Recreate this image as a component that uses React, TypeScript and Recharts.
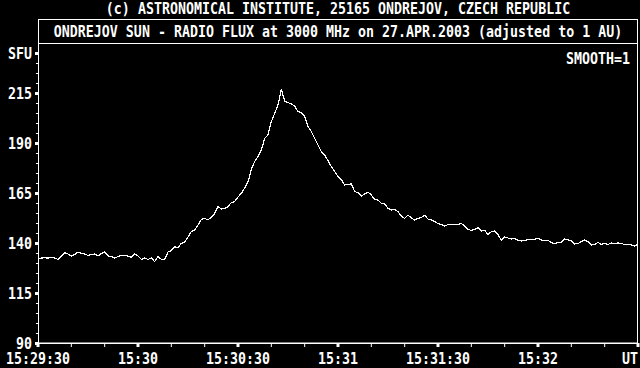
import { Line, LineChart, XAxis, YAxis } from "recharts";

// seconds after 15:29:30 UT, one sample per second
const baselineFlux = [
  131.8, 132.5, 132.6, 132.5, 132.7, 132.5, 131.8, 133.5, 135.2, 134.5,
  133.5, 134.2, 135.5, 134.8, 134.5, 133.8, 134.2, 134.5, 133.5, 134.8,
  135.5, 133.5, 133.2, 132.5, 133.2, 133.8, 133.8, 133.5, 132.8, 134.5,
  133.5, 131.8, 132.5, 131.8, 132.5, 130.7, 133.2, 131.8, 131.8, 135.5,
];
const riseFlux = [
  136.2, 138.2, 137.6, 139.8, 140.5, 143, 145.7, 146.6, 149, 151.8,
  152.3, 151.6, 152.8, 154.8, 158.2, 157, 157.2, 158.2, 160.2, 160.7,
  163, 164.8, 167.5, 170.5, 176.8, 180.7, 183.2, 186.5, 192.3, 194,
  200.7, 204.8, 209, 216.8,
];
const decayFlux = [
  211, 210.2, 209.5, 208.5, 205.7, 205.2, 203.2, 198.2, 195.7, 192.3,
  189, 185.7, 184, 181.2, 178.2, 175.7, 173.2, 171.8, 169, 169.3,
  169.5, 165.7, 165.2, 163.5, 164.5, 165.5, 164, 161.8, 161.5, 159.8,
  159.5, 157.3, 156.5, 156.8, 155.7, 153.5, 152.3, 154, 152.5, 151.5,
  152.3, 152.8, 153.8, 152, 151.5, 150.8,
];
const tailFlux = [
  149.7, 149.2, 148.5, 149.2, 149.3, 149.3, 149.3, 149.7, 148.5, 146.8,
  146.3, 146.7, 147.7, 146, 146.3, 144.3, 145.7, 146, 144.2, 141.5,
  143, 142.5, 142, 142.3, 141.3, 141, 141.3, 141.7, 141.7, 141.8,
  142.5, 141.5, 141.2, 141.3, 140.2, 139.7, 140.2, 140.3, 142, 141.5,
  141.2, 139.5, 139.7, 140.8, 141.5, 140.7, 139, 139.2, 140.3, 139.3,
  139.8, 139.3, 140, 139.7, 140, 139.8, 139.2, 139.3, 139, 138.5, 139.3,
];

const xTicks = [0, 10, 20, 30, 40, 50, 60, 70, 80, 90, 100, 110, 120, 130, 140, 150, 160, 170, 180];
const xLabels: Record<number, string> = {
  0: "15:29:30",
  30: "15:30",
  60: "15:30:30",
  90: "15:31",
  120: "15:31:30",
  150: "15:32",
  180: "UT",
};

const yTicks = [
  90, 95, 100, 105, 110, 115, 120, 125, 130, 135, 140, 145, 150, 155, 160, 165,
  170, 175, 180, 185, 190, 195, 200, 205, 210, 215, 220, 225, 230, 235,
];
const yLabels: Record<number, string> = {
  90: "90",
  115: "115",
  140: "140",
  165: "165",
  190: "190",
  215: "215",
  235: "SFU",
};

const topTitle = "(c) ASTRONOMICAL INSTITUTE, 25165 ONDREJOV, CZECH REPUBLIC";
const plotTitle = "ONDREJOV SUN - RADIO FLUX at 3000 MHz on 27.APR.2003 (adjusted to 1 AU)";
const smoothNote = "SMOOTH=1";

const flux = [...baselineFlux, ...riseFlux, ...decayFlux, ...tailFlux];
const data = flux.map((value, i) => ({ t: i, flux: value }));

const font = "'DejaVu Sans Mono', monospace";

const Label = ({ x, y, anchor, children }: any) => (
  <text
    transform={`translate(${x},${y}) scale(1,1.15)`}
    textAnchor={anchor}
    fill="#fff"
    fontFamily={font}
    fontWeight="bold"
    fontSize={13.3}
  >
    {children}
  </text>
);

const YTick = ({ x, y, payload }: any) => {
  const label = yLabels[payload.value];
  return (
    <g>
      {label ? (
        <rect x={x - 3} y={y - 1} width={3} height={3} fill="#fff" />
      ) : (
        <rect x={x - 2} y={y} width={2} height={1} fill="#fff" />
      )}
      {label && (
        <Label x={32} y={y + 5.5} anchor="end">
          {label}
        </Label>
      )}
    </g>
  );
};

const XTick = ({ x, y, payload }: any) => {
  const label = xLabels[payload.value];
  const last = payload.value === 180;
  return (
    <g>
      {label ? (
        <rect x={x - 1.5} y={y} width={3} height={4} fill="#fff" />
      ) : (
        <rect x={x - 0.5} y={y} width={1} height={4} fill="#fff" />
      )}
      {label && (
        <Label x={x} y={y + 21} anchor={last ? "end" : "middle"}>
          {label}
        </Label>
      )}
    </g>
  );
};

const TopTick = ({ x, y }: any) => <rect x={x - 0.5} y={y} width={1} height={3} fill="#fff" />;

export default function App() {
  return (
    <div style={{ position: "absolute", left: 0, top: 0, width: 640, height: 368, background: "#000" }}>
      <LineChart
        width={640}
        height={368}
        data={data}
        margin={{ top: 43, right: 2, left: 0, bottom: 0 }}
        style={{ background: "#000" }}
      >
        <XAxis
          dataKey="t"
          type="number"
          domain={[0, 180]}
          ticks={xTicks}
          interval={0}
          height={25}
          tickSize={0}
          tickMargin={0}
          tickLine={false}
          axisLine={{ stroke: "#fff", shapeRendering: "crispEdges" }}
          tick={<XTick />}
          allowDataOverflow
        />
        <XAxis
          xAxisId="top"
          orientation="top"
          dataKey="t"
          type="number"
          domain={[0, 180]}
          ticks={xTicks}
          interval={0}
          height={0}
          tickSize={0}
          tickMargin={0}
          tickLine={false}
          axisLine={false}
          tick={<TopTick />}
          allowDataOverflow
        />
        <YAxis
          type="number"
          domain={[90, 240]}
          ticks={yTicks}
          interval={0}
          width={38}
          tickSize={0}
          tickMargin={0}
          tickLine={false}
          axisLine={{ stroke: "#fff", shapeRendering: "crispEdges" }}
          tick={<YTick />}
          allowDataOverflow
        />
        <Line
          dataKey="flux"
          type="linear"
          stroke="#fff"
          strokeWidth={1.2}
          shapeRendering="crispEdges"
          dot={false}
          activeDot={false}
          isAnimationActive={false}
        />
      </LineChart>
      <svg
        width={640}
        height={368}
        style={{ position: "absolute", left: 0, top: 0, pointerEvents: "none" }}
      >
        <rect x={38.5} y={19.5} width={599} height={323.5} fill="none" stroke="#fff" strokeWidth={1} />
        <line x1={38} y1={43.5} x2={638} y2={43.5} stroke="#fff" strokeWidth={1} />
        <Label x={338} y={14} anchor="middle">
          {topTitle}
        </Label>
        <Label x={338} y={37} anchor="middle">
          {plotTitle}
        </Label>
        <Label x={630} y={64} anchor="end">
          {smoothNote}
        </Label>
      </svg>
    </div>
  );
}
